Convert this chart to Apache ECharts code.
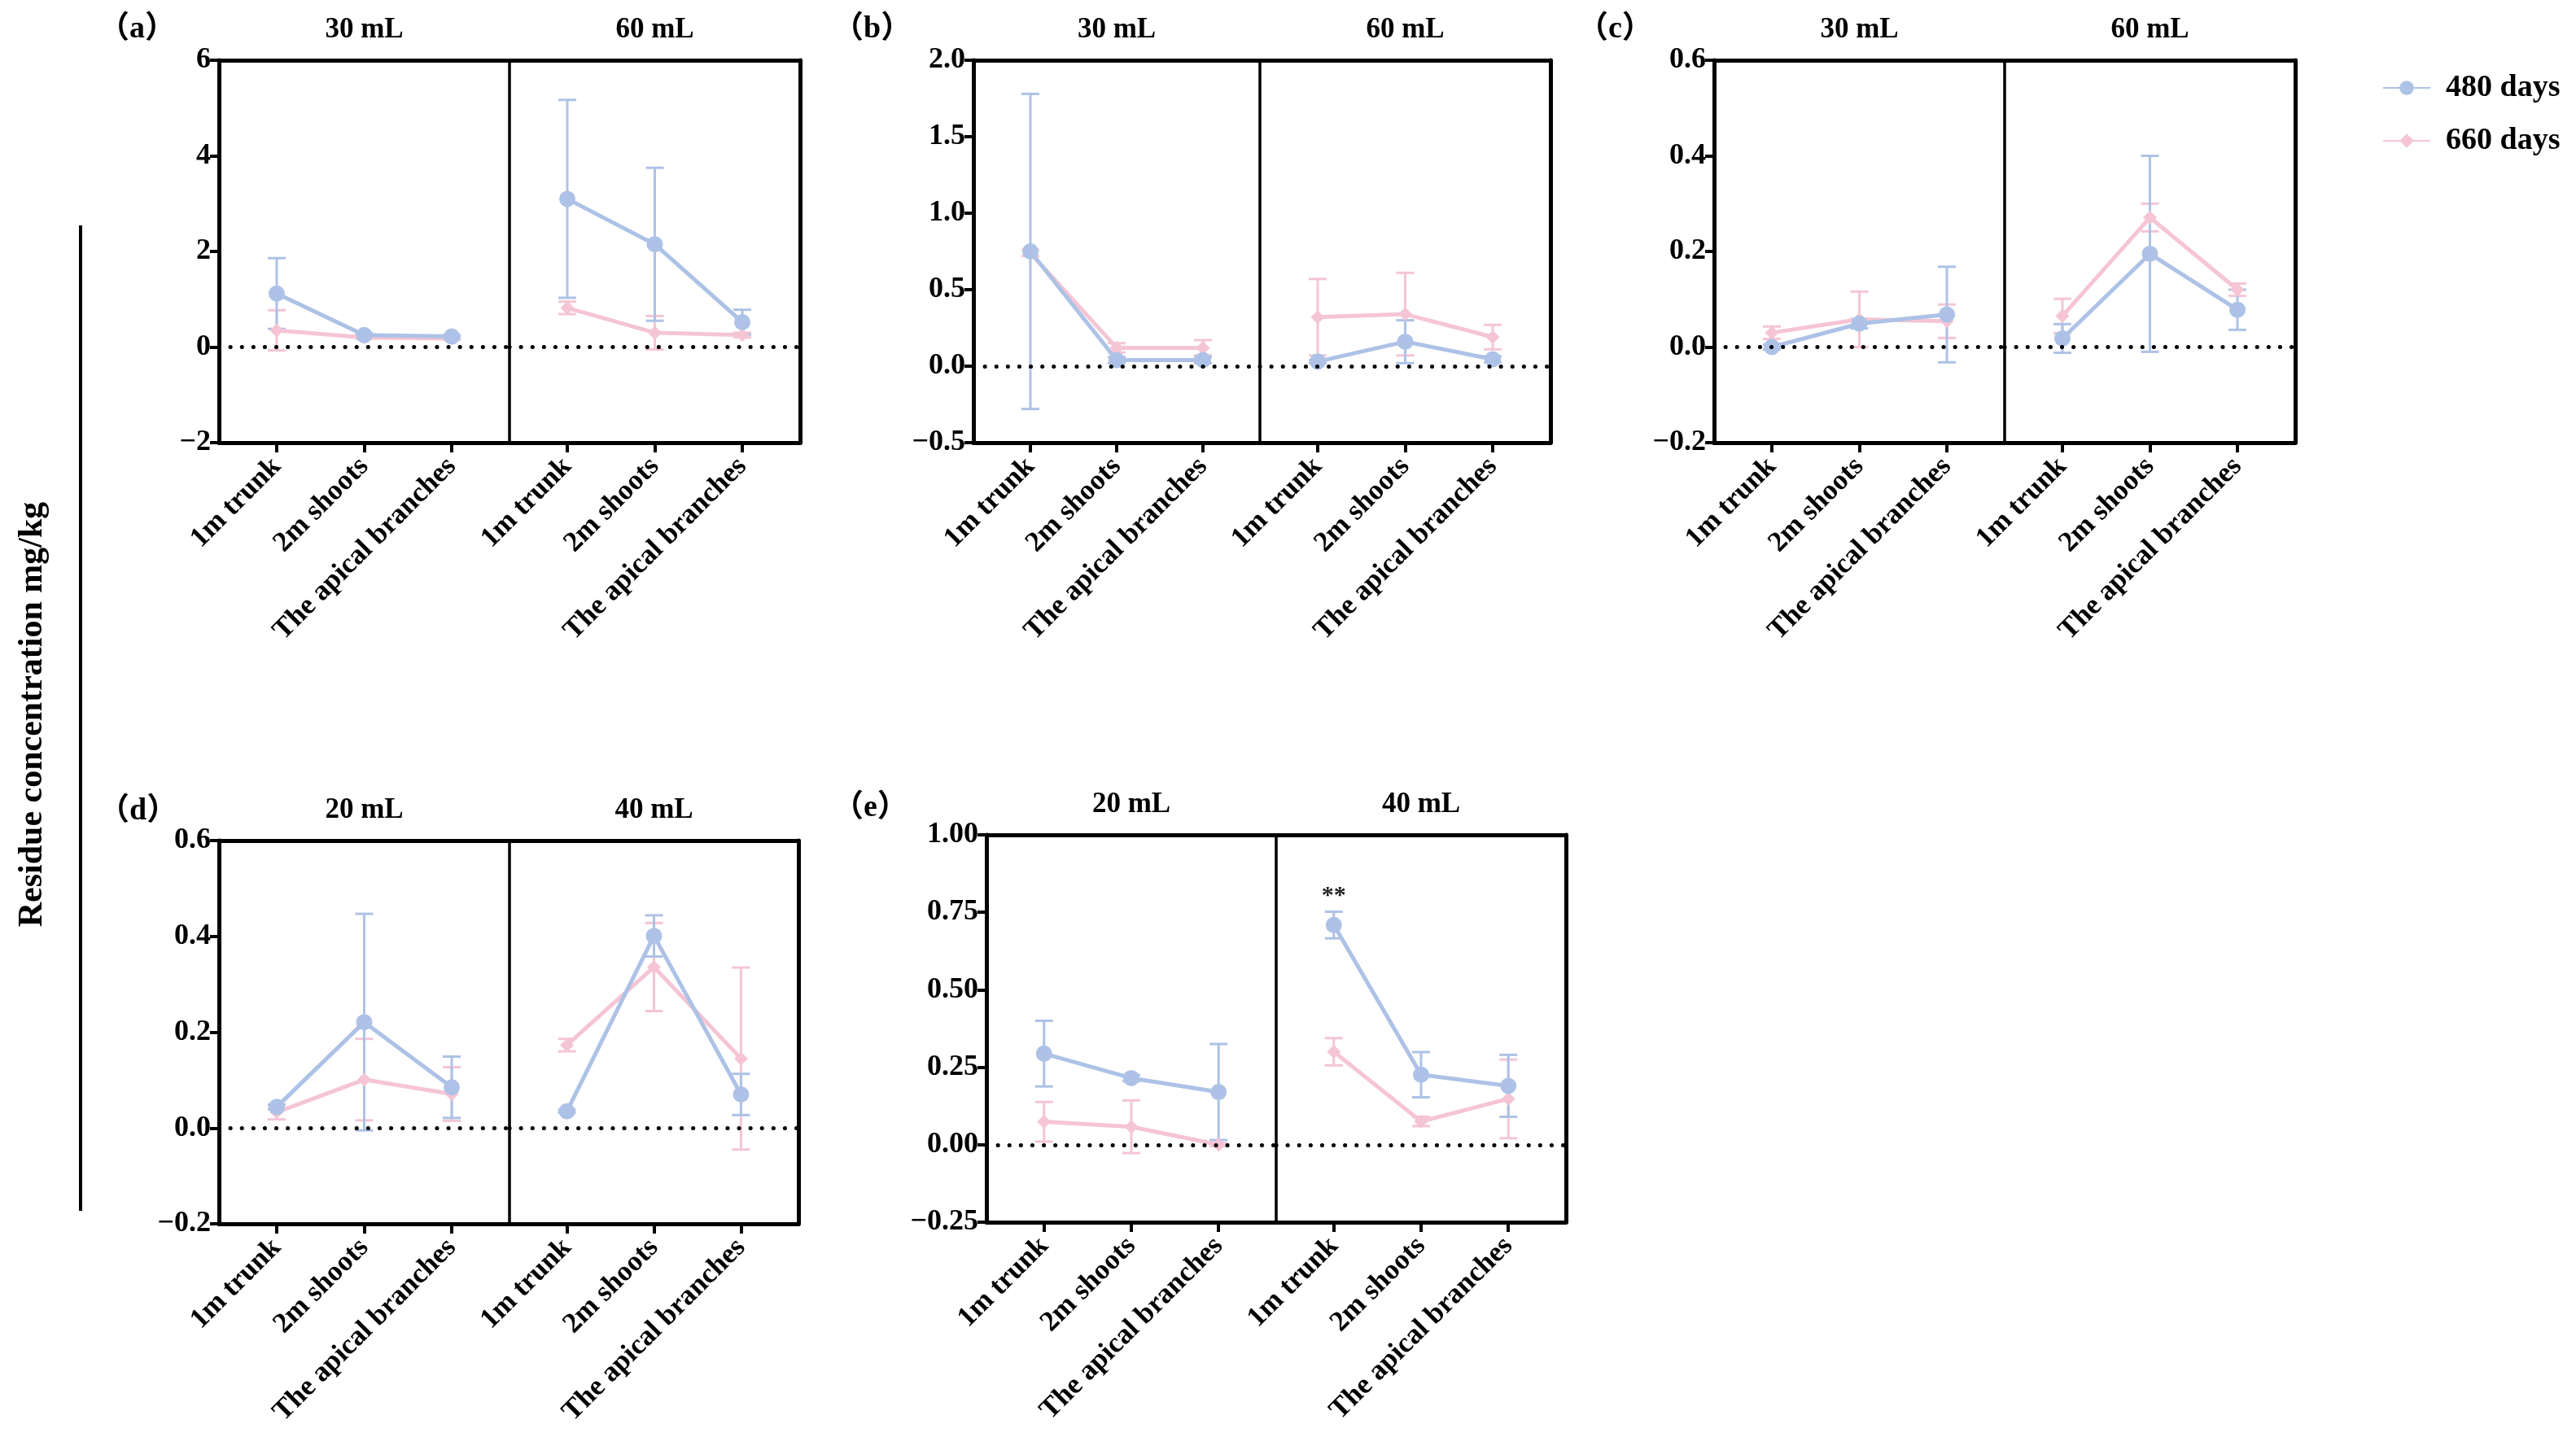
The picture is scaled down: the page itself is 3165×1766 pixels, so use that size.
<!DOCTYPE html>
<html><head><meta charset="utf-8">
<script src="https://cdn.jsdelivr.net/npm/echarts@6/dist/echarts.min.js"></script>
<style>html,body{margin:0;padding:0;background:#fff}#c{width:3165px;height:1766px}</style>
</head><body><div id="c"></div>
<script>
// ---------- data ----------
const categories = ['1m trunk', '2m shoots', 'The apical branches'];
const seriesNames = ['480 days', '660 days'];

// panel (a)
const a30_480 = [1.12, 0.25, 0.22], a30_480_err = [0.74, 0.04, 0.03];
const a30_660 = [0.35, 0.20, 0.18], a30_660_err = [0.42, 0.03, 0.03];
const a60_480 = [3.10, 2.15, 0.52], a60_480_err = [2.07, 1.60, 0.26];
const a60_660 = [0.82, 0.30, 0.25], a60_660_err = [0.13, 0.35, 0.05];
// panel (b)
const b30_480 = [0.75, 0.04, 0.04], b30_480_err = [1.03, 0.02, 0.02];
const b30_660 = [0.74, 0.12, 0.12], b30_660_err = [0.02, 0.03, 0.05];
const b60_480 = [0.03, 0.16, 0.045], b60_480_err = [0.01, 0.14, 0.02];
const b60_660 = [0.32, 0.34, 0.19], b60_660_err = [0.25, 0.27, 0.08];
// panel (c)
const c30_480 = [0.0, 0.049, 0.068], c30_480_err = [0.005, 0.01, 0.10];
const c30_660 = [0.03, 0.058, 0.054], c30_660_err = [0.013, 0.058, 0.035];
const c60_480 = [0.018, 0.195, 0.078], c60_480_err = [0.03, 0.205, 0.042];
const c60_660 = [0.065, 0.271, 0.12], c60_660_err = [0.036, 0.029, 0.013];
// panel (d)
const d20_480 = [0.044, 0.221, 0.085], d20_480_err = [0.005, 0.226, 0.064];
const d20_660 = [0.033, 0.101, 0.071], d20_660_err = [0.015, 0.085, 0.056];
const d40_480 = [0.035, 0.401, 0.070], d40_480_err = [0.003, 0.043, 0.043];
const d40_660 = [0.173, 0.336, 0.145], d40_660_err = [0.013, 0.092, 0.19];
// panel (e)
const e20_480 = [0.294, 0.215, 0.17], e20_480_err = [0.106, 0.01, 0.155];
const e20_660 = [0.074, 0.058, 0.0], e20_660_err = [0.064, 0.085, 0.005];
const e40_480 = [0.709, 0.226, 0.19], e40_480_err = [0.043, 0.073, 0.10];
const e40_660 = [0.30, 0.075, 0.148], e40_660_err = [0.044, 0.015, 0.127];
const e40_sig = ['**', '', ''];

// ---------- style / layout ----------
const FONT = '"Liberation Serif", "Times New Roman", serif';
const BLUE = '#adc2e6', PINK = '#f5c5d5';
const XMIN = -0.66, XMAX = 2.66;

const panels = [
  {label: 'a', lx: 121, ly: 36, halves: ['30 mL', '60 mL'], box: {L: 269, D: 626, R: 983, T: 74, B: 544},
   y: {min: -2, max: 6, interval: 2, dec: 0},
   d: [[a30_480, a30_480_err, a30_660, a30_660_err], [a60_480, a60_480_err, a60_660, a60_660_err]]},
  {label: 'b', lx: 1023, ly: 36, halves: ['30 mL', '60 mL'], box: {L: 1196, D: 1548, R: 1905, T: 74, B: 544},
   y: {min: -0.5, max: 2, interval: 0.5, dec: 1},
   d: [[b30_480, b30_480_err, b30_660, b30_660_err], [b60_480, b60_480_err, b60_660, b60_660_err]]},
  {label: 'c', lx: 1938, ly: 36, halves: ['30 mL', '60 mL'], box: {L: 2106, D: 2463, R: 2820, T: 74, B: 544},
   y: {min: -0.2, max: 0.6, interval: 0.2, dec: 1},
   d: [[c30_480, c30_480_err, c30_660, c30_660_err], [c60_480, c60_480_err, c60_660, c60_660_err]]},
  {label: 'd', lx: 121, ly: 997, halves: ['20 mL', '40 mL'], box: {L: 269, D: 626, R: 981, T: 1033, B: 1504},
   y: {min: -0.2, max: 0.6, interval: 0.2, dec: 1},
   d: [[d20_480, d20_480_err, d20_660, d20_660_err], [d40_480, d40_480_err, d40_660, d40_660_err]]},
  {label: 'e', lx: 1023, ly: 993, halves: ['20 mL', '40 mL'], box: {L: 1212, D: 1568, R: 1924, T: 1026, B: 1502},
   y: {min: -0.25, max: 1, interval: 0.25, dec: 2},
   d: [[e20_480, e20_480_err, e20_660, e20_660_err], [e40_480, e40_480_err, e40_660, e40_660_err]],
   sig: [null, e40_sig]}
];

const grids = [], xAxes = [], yAxes = [], series = [], graphics = [];

function errSeries(xi, yi, vals, errs, color) {
  return {
    type: 'custom', name: 'err', xAxisIndex: xi, yAxisIndex: yi, silent: true,
    data: vals.map((v, i) => [i, v, errs[i]]),
    renderItem: (params, api) => {
      const x = api.value(0), y = api.value(1), e = api.value(2);
      const t = api.coord([x, y + e]), b = api.coord([x, y - e]);
      const w = 11;
      const segs = [
        {x1: t[0], y1: t[1], x2: b[0], y2: b[1]},
        {x1: t[0] - w, y1: t[1], x2: t[0] + w, y2: t[1]},
        {x1: b[0] - w, y1: b[1], x2: b[0] + w, y2: b[1]}
      ];
      return {type: 'group', children: segs.map(s => ({type: 'line', shape: s, style: {stroke: color, lineWidth: 3}}))};
    }
  };
}

const labelFont = {fontFamily: FONT, fontWeight: 'bold', color: '#000'};

panels.forEach((p, pi) => {
  const fmt = v => (v < -1e-9 ? '\u2212' : '') + Math.abs(v).toFixed(p.y.dec);
  p.halves.forEach((h, hi) => {
    const left = hi === 0 ? p.box.L : p.box.D;
    const right = hi === 0 ? p.box.D : p.box.R;
    const gi = grids.length;
    grids.push({left: left, top: p.box.T, width: right - left, height: p.box.B - p.box.T,
      show: true, borderColor: '#000', borderWidth: 3, containLabel: false, outerBoundsMode: 'none'});
    const xb = xAxes.length;
    xAxes.push({gridIndex: gi, type: 'value', min: XMIN, max: XMAX, position: 'bottom',
      axisLine: {show: true, onZero: false, lineStyle: {color: '#000', width: 5}},
      axisTick: {show: true, customValues: [0, 1, 2], length: 12, lineStyle: {color: '#000', width: 4}},
      axisLabel: Object.assign({customValues: [0, 1, 2], formatter: v => categories[Math.round(v)] || '',
        rotate: 45, fontSize: 35, margin: 24}, labelFont),
      splitLine: {show: false}});
    xAxes.push({gridIndex: gi, type: 'value', min: XMIN, max: XMAX, position: 'top',
      name: h, nameLocation: 'middle', nameGap: 20,
      nameTextStyle: Object.assign({fontSize: 35}, labelFont),
      axisLine: {show: true, onZero: false, lineStyle: {color: '#000', width: 5}},
      axisTick: {show: false}, axisLabel: {show: false}, splitLine: {show: false}});
    yAxes.push({gridIndex: gi, type: 'value', min: p.y.min, max: p.y.max, interval: p.y.interval,
      position: hi === 0 ? 'left' : 'right',
      axisLine: {show: true, onZero: false, lineStyle: {color: '#000', width: 5}},
      axisTick: {show: hi === 0, length: 11, lineStyle: {color: '#000', width: 4}},
      axisLabel: Object.assign({show: hi === 0, formatter: fmt, fontSize: 36, margin: 10}, labelFont),
      splitLine: {show: false}});
    const [v480, e480, v660, e660] = p.d[hi];
    series.push(errSeries(xb, gi, v660, e660, PINK));
    series.push({type: 'line', name: seriesNames[1], xAxisIndex: xb, yAxisIndex: gi,
      data: v660.map((v, i) => [i, v]), symbol: 'diamond', symbolSize: 17,
      lineStyle: {width: 5, color: PINK}, itemStyle: {color: PINK}, silent: true,
      markLine: {silent: true, symbol: 'none', label: {show: false},
        lineStyle: {color: '#000', type: [0.1, 14], width: 5, cap: 'round'}, data: [{yAxis: 0}]}});
    series.push(errSeries(xb, gi, v480, e480, BLUE));
    const blue = {type: 'line', name: seriesNames[0], xAxisIndex: xb, yAxisIndex: gi,
      data: v480.map((v, i) => [i, v]), symbol: 'circle', symbolSize: 20,
      lineStyle: {width: 5, color: BLUE}, itemStyle: {color: BLUE}, silent: true};
    if (p.sig && p.sig[hi]) {
      const s = p.sig[hi];
      blue.markPoint = {symbol: 'rect', symbolSize: 1, itemStyle: {color: 'rgba(0,0,0,0)'},
        data: s.map((t, i) => t ? {coord: [i, v480[i]], value: t} : null).filter(Boolean),
        label: {show: true, formatter: q => q.value, position: 'inside', offset: [0, -36],
          fontSize: 30, fontWeight: 'bold', color: '#222', fontFamily: FONT}};
    }
    series.push(blue);
  });
  graphics.push({type: 'text', x: p.lx, y: p.ly,
    style: {text: '\uff08' + p.label + '\uff09', font: 'bold 38px "Liberation Serif", "Noto Sans CJK SC"',
      fill: '#000', textVerticalAlign: 'middle'}});
});

graphics.push({type: 'text', x: 40, y: 878, rotation: Math.PI / 2,
  style: {text: 'Residue concentration mg/kg', font: 'bold 42px "Liberation Serif"', fill: '#000',
    textAlign: 'center', textVerticalAlign: 'middle'}});
graphics.push({type: 'line', shape: {x1: 99, y1: 277, x2: 99, y2: 1488}, style: {stroke: '#000', lineWidth: 4}});

const chart = echarts.init(document.getElementById('c'), null, {renderer: 'canvas'});
chart.setOption({
  animation: false,
  backgroundColor: '#fff',
  grid: grids, xAxis: xAxes, yAxis: yAxes, series: series,
  legend: {data: seriesNames, orient: 'vertical', left: 2922, top: 84, itemWidth: 58, itemHeight: 22,
    itemGap: 27, textStyle: {fontSize: 38, fontWeight: 'bold', fontFamily: FONT, color: '#000', padding: [0, 0, 0, 14]}},
  graphic: graphics
});
</script></body></html>
